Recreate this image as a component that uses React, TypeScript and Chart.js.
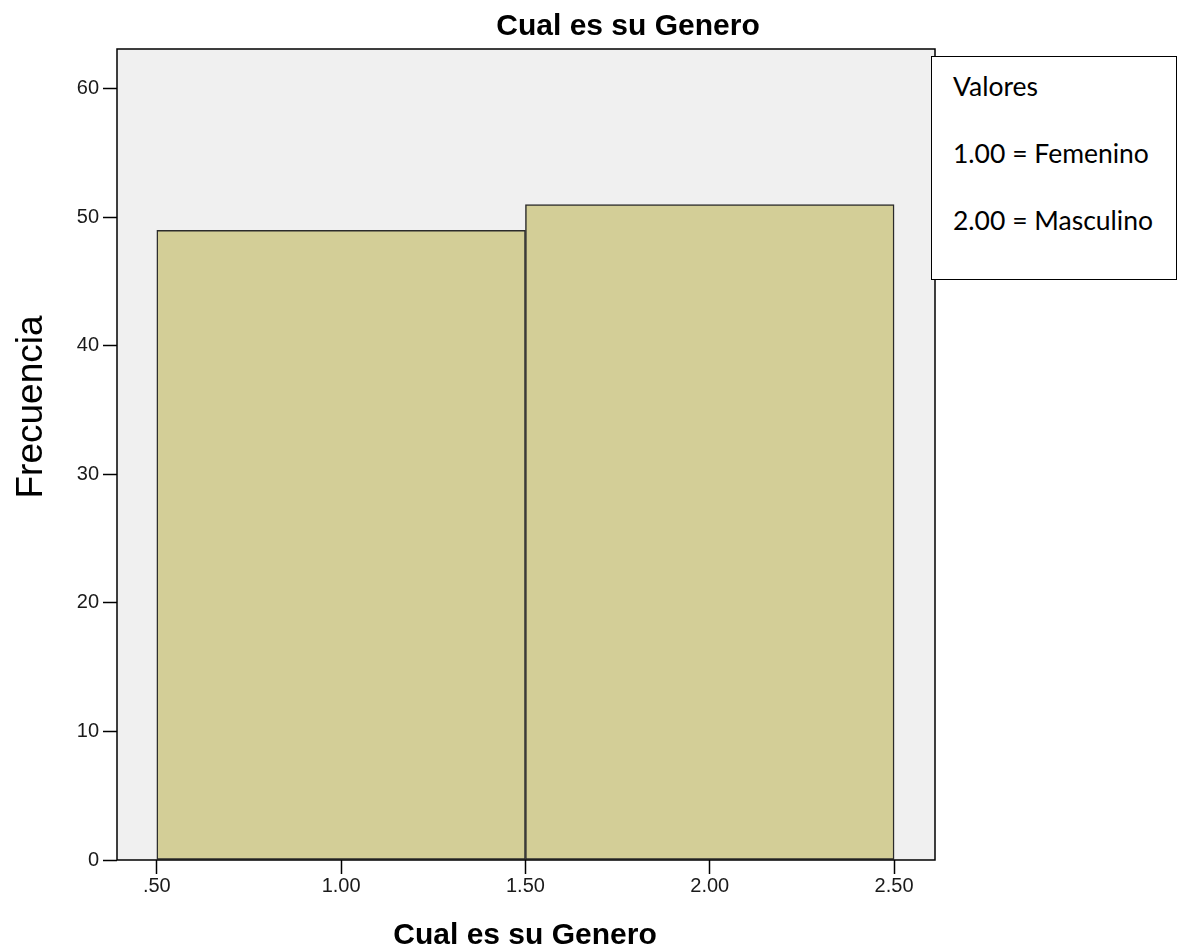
import React, { useEffect, useRef } from "react";
import { Chart, registerables } from "chart.js";

Chart.register(...registerables);

const CHART_TITLE = "Cual es su Genero";
const X_TITLE = "Cual es su Genero";
const Y_TITLE = "Frecuencia";
const BIN_CENTERS = [1, 2];
const FREQUENCIES = [49, 51];
const X_TICKS = [0.5, 1.0, 1.5, 2.0, 2.5];
const Y_TICKS = [0, 10, 20, 30, 40, 50, 60];
const LEGEND_LINES = ["Valores", "1.00 = Femenino", "2.00 = Masculino"];

const W = 1186;
const H = 951;
const X_MIN = 0.392;
const X_MAX = 2.611;

const fmtX = (v: number) => {
  const s = v.toFixed(2);
  return s.startsWith("0") ? s.slice(1) : s;
};

export default function App() {
  const ref = useRef<HTMLCanvasElement | null>(null);

  useEffect(() => {
    if (!ref.current) return;
    const bgPlugin = {
      id: "bgPlugin",
      beforeDraw(chart: any) {
        const { ctx, chartArea: a } = chart;
        ctx.save();
        ctx.fillStyle = "#f0f0f0";
        ctx.fillRect(a.left, a.top, a.right - a.left, a.bottom - a.top);
        ctx.restore();
      },
      afterDraw(chart: any) {
        const { ctx, chartArea: a } = chart;
        ctx.save();
        ctx.strokeStyle = "#000";
        ctx.lineWidth = 1.5;
        ctx.strokeRect(a.left, a.top, a.right - a.left, a.bottom - a.top);
        ctx.fillStyle = "#000";
        ctx.textAlign = "center";
        ctx.textBaseline = "alphabetic";
        ctx.font = "bold 30px 'Liberation Sans', Arial, sans-serif";
        ctx.fillText(CHART_TITLE, 628, 35);
        ctx.fillText(X_TITLE, 525, 944);
        ctx.translate(42, 407);
        ctx.rotate(-Math.PI / 2);
        ctx.font = "37px 'Liberation Sans', Arial, sans-serif";
        ctx.fillText(Y_TITLE, 0, 0);
        ctx.restore();
      },
    };

    const tickFont = { family: "'Liberation Sans', Arial, sans-serif", size: 20 };

    const chart = new Chart(ref.current, {
      type: "bar",
      data: {
        datasets: [
          {
            xAxisID: "xb",
            data: BIN_CENTERS.map((x, i) => ({ x, y: FREQUENCIES[i] })),
            backgroundColor: "#d3ce97",
            borderColor: "#2b2b2b",
            borderWidth: 1.5,
            borderSkipped: false,
            barPercentage: 1,
            categoryPercentage: 1,
          },
        ],
      },
      options: {
        responsive: false,
        animation: false,
        layout: { padding: { top: 49, right: W - 935, left: 0, bottom: 0 } },
        plugins: {
          legend: { display: false },
          title: { display: false },
          tooltip: { enabled: false },
        },
        scales: {
          xb: {
            type: "linear",
            display: false,
            offset: false,
            min: X_MIN,
            max: X_MAX,
            afterBuildTicks: (s: any) => {
              s.ticks = BIN_CENTERS.map((v) => ({ value: v }));
            },
          },
          x: {
            type: "linear",
            offset: false,
            min: X_MIN,
            max: X_MAX,
            afterFit: (s: any) => {
              s.height = H - 860;
            },
            afterBuildTicks: (s: any) => {
              s.ticks = X_TICKS.map((v) => ({ value: v }));
            },
            ticks: {
              callback: (v: any) => fmtX(Number(v)),
              color: "#1a1a1a",
              font: tickFont,
              padding: 0,
              maxRotation: 0,
              autoSkip: false,
            },
            grid: {
              offset: false,
              drawOnChartArea: false,
              tickLength: 14,
              tickColor: "#000",
              tickWidth: 1.5,
            },
            border: { display: false },
          },
          y: {
            min: 0,
            max: 63.1,
            afterFit: (s: any) => {
              s.width = 117;
            },
            afterBuildTicks: (s: any) => {
              s.ticks = Y_TICKS.map((v) => ({ value: v }));
            },
            ticks: {
              color: "#1a1a1a",
              font: tickFont,
              padding: 4,
            },
            grid: {
              drawOnChartArea: false,
              tickLength: 14,
              tickColor: "#000",
              tickWidth: 1.5,
            },
            border: { display: false },
          },
        },
      },
      plugins: [bgPlugin],
    } as any);
    return () => chart.destroy();
  }, []);

  return (
    <div style={{ position: "absolute", left: 0, top: 0, width: W, height: H, background: "#fff" }}>
      <canvas ref={ref} width={W} height={H} style={{ display: "block" }} />
      <div
        style={{
          position: "absolute",
          left: 931,
          top: 56,
          width: 246,
          height: 224,
          boxSizing: "border-box",
          border: "1.5px solid #000",
          background: "#fff",
          fontFamily: "Lato, 'Open Sans', sans-serif",
          fontSize: 26.5,
          color: "#000",
        }}
      >
        {LEGEND_LINES.map((t, i) => (
          <div
            key={i}
            style={{ position: "absolute", left: 21, top: 14 + i * 67, lineHeight: "30px", whiteSpace: "nowrap" }}
          >
            {t}
          </div>
        ))}
      </div>
    </div>
  );
}
